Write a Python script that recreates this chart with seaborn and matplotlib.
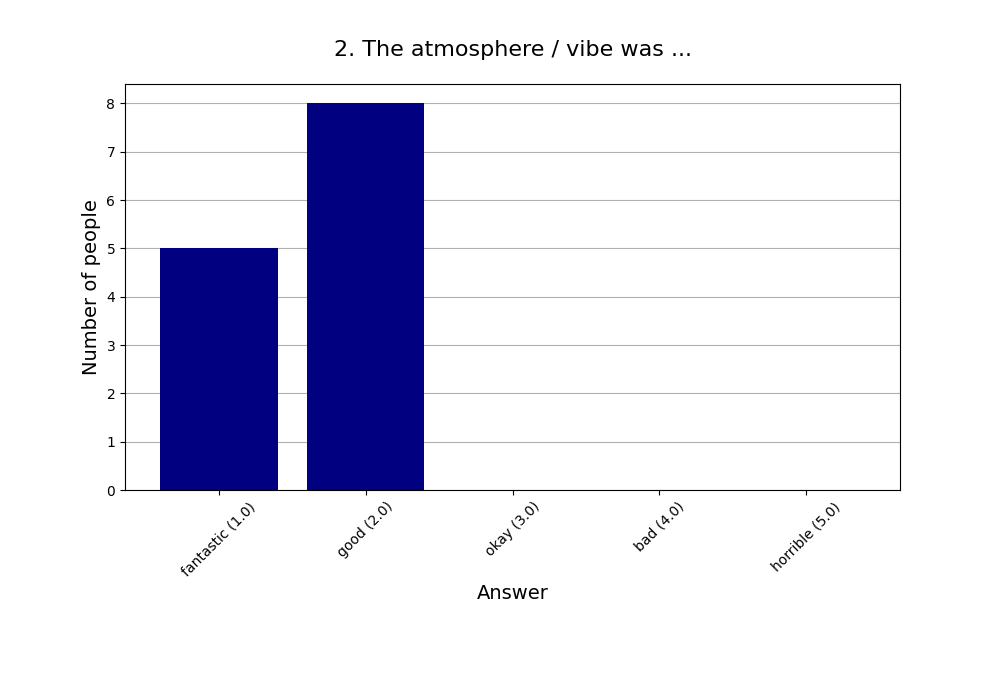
import matplotlib
matplotlib.use("Agg")
import matplotlib.pyplot as plt
import seaborn as sns
import pandas as pd

answers = ["fantastic (1.0)", "good (2.0)", "okay (3.0)", "bad (4.0)", "horrible (5.0)"]
counts = [5, 8, 0, 0, 0]
title = "2. The atmosphere / vibe was ..."

df = pd.DataFrame({"Answer": answers, "Count": counts})

fig, ax = plt.subplots(figsize=(10, 7), dpi=100)
fig.subplots_adjust(left=0.125, right=0.9, top=0.88, bottom=0.3)
sns.barplot(data=df, x="Answer", y="Count", color="navy", saturation=1, width=0.8, ax=ax)
ax.set_xlim(-0.64, 4.64)
ax.set_ylim(0, 8.4)
ax.set_axisbelow(True)
ax.yaxis.grid(True, color="#b0b0b0", linewidth=0.8)
ax.xaxis.grid(False)
ax.set_title(title, fontsize=16, pad=20)
ax.set_xlabel("Answer", fontsize=14)
ax.set_ylabel("Number of people", fontsize=14)
plt.setp(ax.get_xticklabels(), rotation=45)
for s in ax.spines.values():
    s.set_visible(True)
fig.savefig("out.png", dpi=100)
